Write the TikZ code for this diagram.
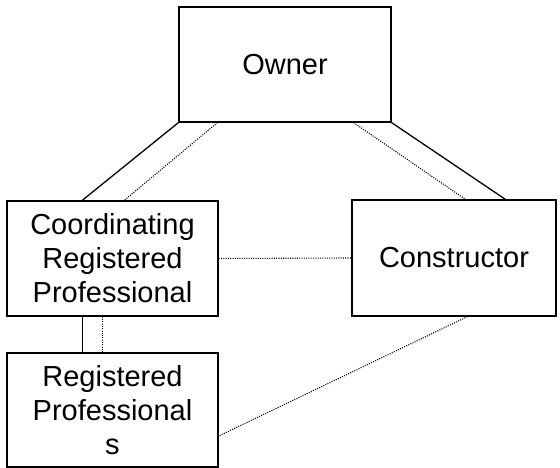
\documentclass[tikz,border=0pt]{standalone}
\usepackage{fontspec}
\setmainfont{Liberation Sans}
\usetikzlibrary{calc}
\begin{document}
\begin{tikzpicture}[x=1pt,y=-1pt,
  box/.style={draw=black,line width=1.4pt,fill=white,inner sep=0pt,align=center,
    font=\fontsize{29}{34}\selectfont},
  solidline/.style={draw=black,line width=1.3pt},
  dotline/.style={draw=black,line width=1.1pt,dash pattern=on 1pt off 1.3pt}]
\useasboundingbox (0,0) rectangle (560,468);
\node[box,minimum width=212pt,minimum height=115pt] (owner) at (285,64.5) {Owner};
\node[box,minimum width=211pt,minimum height=115pt] (coord) at (112.5,258.5) {Coordinating\\Registered\\Professional};
\node[box,minimum width=204pt,minimum height=116pt] (constr) at (454,258) {Constructor};
\node[box,minimum width=211pt,minimum height=114pt] (reg) at (112.5,410) {Registered\\Professional\\s};
\draw[solidline] (owner.south west) -- ($(coord.north west)+(76,0)$);
\draw[dotline] ($(owner.south west)+(39,0)$) -- ($(coord.north west)+(118,0)$);
\draw[solidline] (owner.south east) -- ($(constr.north west)+(154,0)$);
\draw[dotline] ($(owner.south east)+(-38,0)$) -- ($(constr.north west)+(114,0)$);
\draw[dotline] (coord.east) -- (constr.west);
\draw[solidline] ($(coord.south west)+(76,0)$) -- ($(reg.north west)+(76,0)$);
\draw[dotline] ($(coord.south west)+(96,0)$) -- ($(reg.north west)+(96,0)$);
\draw[dotline] ($(constr.south west)+(116,0)$) -- ($(reg.east)+(0,26)$);
\end{tikzpicture}
\end{document}
